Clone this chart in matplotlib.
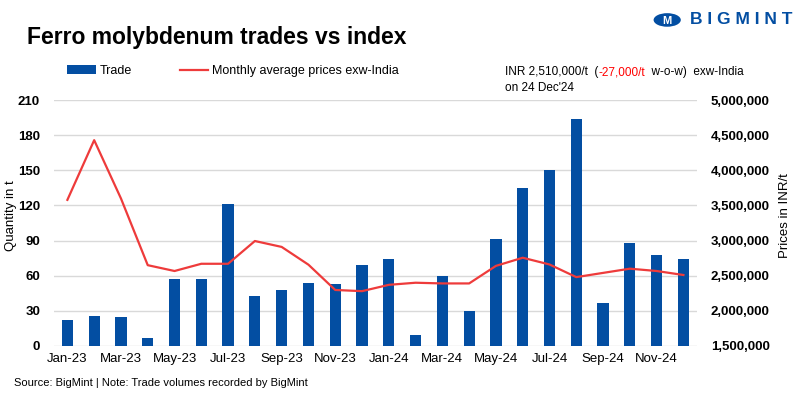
import matplotlib.pyplot as plt
from matplotlib.patches import Circle

months = ['Jan-23', 'Feb-23', 'Mar-23', 'Apr-23', 'May-23', 'Jun-23', 'Jul-23', 'Aug-23',
          'Sep-23', 'Oct-23', 'Nov-23', 'Dec-23', 'Jan-24', 'Feb-24', 'Mar-24', 'Apr-24',
          'May-24', 'Jun-24', 'Jul-24', 'Aug-24', 'Sep-24', 'Oct-24', 'Nov-24', 'Dec-24']
trade = [22, 26, 25, 7, 57, 57, 121, 43, 48, 54, 53, 69,
         74, 9, 60, 30, 91, 135, 150, 194, 37, 88, 78, 74]
price = [3580000, 4430000, 3600000, 2650000, 2567000, 2670000, 2670000, 2994000,
         2910000, 2657000, 2297000, 2280000, 2370000, 2400000, 2390000, 2390000,
         2640000, 2756000, 2660000, 2480000, 2540000, 2600000, 2567000, 2510000]

blue = '#034EA2'
red = '#EE3B3B'
grid = '#D9D9D9'
font = 'Liberation Sans'

fig = plt.figure(figsize=(8, 3.99), dpi=100)
ax = fig.add_axes([0.0675, 0.133, 0.8035, 0.616])
ax2 = ax.twinx()

x = list(range(len(months)))
bars = ax.bar(x, trade, width=0.42, color=blue, zorder=3, label='Trade')
line, = ax2.plot(x, price, color=red, lw=1.6, zorder=4,
                 label='Monthly average prices exw-India')

ax.set_xlim(-0.5, 23.5)
ax.set_ylim(0, 210)
ax.set_yticks(range(0, 211, 30))
ax2.set_ylim(1500000, 5000000)
ax2.set_yticks(range(1500000, 5000001, 500000))
ax2.set_yticklabels([f'{v:,}' for v in range(1500000, 5000001, 500000)])

ax.set_xticks(x[::2])
ax.set_xticklabels(months[::2], family=font, fontsize=9.5)
ax.grid(axis='y', color=grid, lw=1, zorder=0)
for a in (ax, ax2):
    for s in a.spines.values():
        s.set_visible(False)
    a.tick_params(length=0)
for t in ax.get_yticklabels() + ax2.get_yticklabels():
    t.set_family(font)
    t.set_fontweight('bold')
    t.set_fontsize(9.5)
ax.tick_params(axis='y', pad=10)
ax2.tick_params(axis='y', pad=10)
ax.tick_params(axis='x', pad=5)

ax.set_ylabel('Quantity in t', family=font, fontsize=9.5)
ax2.set_ylabel('Prices in INR/t', family=font, fontsize=9.5)
ax.yaxis.set_label_coords(-0.057, 0.53)
ax2.yaxis.set_label_coords(1.128, 0.53)

fig.text(0.034, 0.905, 'Ferro molybdenum trades vs index', family=font,
         fontsize=16.5, fontweight='bold', va='center')
fig.legend(handles=[bars, line], loc='center left', bbox_to_anchor=(0.07, 0.822),
           ncol=2, frameon=False, prop={'family': font, 'size': 9},
           handlelength=2.3, handletextpad=0.3, columnspacing=3.8)

# price note, three pieces on one baseline
y0 = 0.812
t1 = fig.text(0.631, y0, 'INR 2,510,000/t  (', family=font, fontsize=8.5, va='baseline')
fig.canvas.draw()
x1 = fig.transFigure.inverted().transform(t1.get_window_extent().p1)[0]
t2 = fig.text(x1, y0, '-27,000/t', family=font, fontsize=8.5, va='baseline', color='#FF0000')
fig.canvas.draw()
x2 = fig.transFigure.inverted().transform(t2.get_window_extent().p1)[0]
fig.text(x2, y0, '  w-o-w)  exw-India', family=font, fontsize=8.5, va='baseline')
fig.text(0.631, y0 - 0.04, "on 24 Dec'24", family=font, fontsize=8.5, va='baseline')

fig.text(0.018, 0.04, 'Source: BigMint | Note: Trade volumes recorded by BigMint',
         family=font, fontsize=8, va='center')

# logo
fig.patches.append(Circle((0.834, 0.95), 0.017, transform=fig.transFigure,
                          facecolor=blue, edgecolor='none'))
fig.text(0.834, 0.948, 'M', color='white', fontsize=8, fontweight='bold',
         ha='center', va='center', family=font)
fig.text(0.862, 0.95, 'B I G M I N T', color=blue, fontsize=12.5, fontweight='bold',
         va='center', family=font)

fig.savefig('out.png', dpi=100)
